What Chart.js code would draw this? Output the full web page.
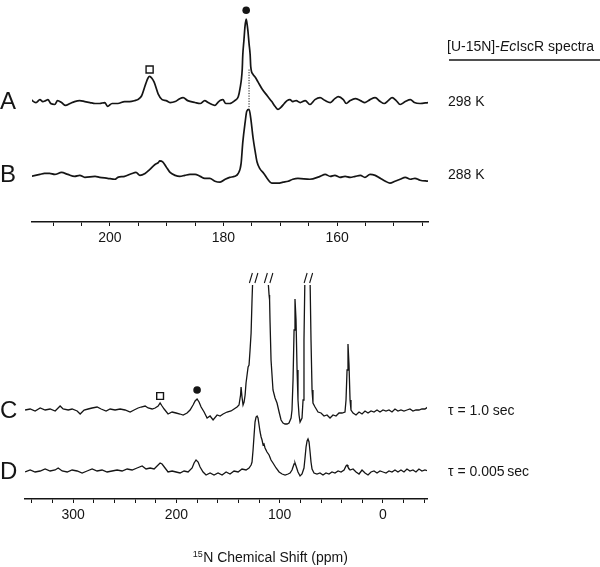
<!DOCTYPE html>
<html><head><meta charset="utf-8">
<script src="https://cdn.jsdelivr.net/npm/chart.js@4.4.0/dist/chart.umd.min.js"></script>
<style>html,body{margin:0;padding:0;background:#fff;width:600px;height:567px;overflow:hidden}canvas{position:absolute;left:0}</style>
</head><body>
<canvas id="cTop" width="600" height="250" style="top:0"></canvas>
<canvas id="cBot" width="600" height="317" style="top:250px"></canvas>
<script>
// ---------- DATA (15N chemical shift in ppm, intensity in arbitrary units) ----------
// Upper panel, temperature series
const A_ppm = [213.9,213.0,212.3,211.8,211.3,210.9,210.4,209.7,209.2,208.5,207.8,207.0,206.2,205.3,204.4,203.5,202.6,201.8,200.9,200.4,
  199.6,198.6,197.4,196.5,195.6,195.1,194.4,193.7,193.3,193.0,192.6,192.2,191.5,190.8,190.1,189.4,188.5,187.7,187.1,186.3,
  185.0,184.1,183.3,182.7,182.0,181.5,181.0,180.6,180.1,179.6,178.9,178.0,177.4,177.1,176.7,176.6,176.4,176.2,176.0,175.9,
  175.7,175.5,175.3,175.2,174.8,174.4,173.9,173.2,172.3,171.5,170.9,170.4,169.9,169.3,168.8,168.3,167.8,167.2,166.5,165.6,
  164.8,163.9,163.0,162.1,161.2,160.4,159.8,158.9,158.4,157.7,156.8,155.9,155.1,154.2,153.3,152.4,151.7,151.0,150.3,149.6,
  148.9,148.0,147.1,146.4,145.4,144.0];
const A_int = [2,-1,2,0,1,2,-2,-3,1,-1,-4,-2,0,1,0,-1,-2,-2,-1,-5,
  -2,-2,0,0,1,2,6,18,24,26,24,20,8,2,1,-1,0,3,4,1,
  -1,-2,1,-1,-3,-4,-1,1,2,-2,-2,1,5,13,33,48,63,78,85,82,
  73,60,48,36,28,25,20,13,6,0,-5,-8,-6,-2,1,2,0,1,-1,1,
  -3,2,4,1,-1,3,5,2,-2,1,3,1,-1,2,4,0,-2,1,4,1,
  -3,0,2,-1,-2,-1];
const B_ppm = [213.9,212.3,211.5,210.6,209.7,208.5,207.4,206.2,205.3,204.4,202.6,201.8,200.4,199.1,198.6,197.4,196.1,195.4,194.7,193.8,
  193.0,192.1,191.5,191.2,190.7,190.1,189.4,188.5,187.7,186.8,185.9,185.0,184.1,183.3,182.4,181.5,180.6,179.7,178.9,178.0,
  177.4,176.9,176.6,176.2,175.9,175.5,175.2,174.8,174.4,174.1,173.6,172.9,172.2,171.5,170.4,169.5,168.6,167.8,166.9,164.8,
  163.0,162.1,161.2,160.4,159.5,158.6,157.7,156.8,155.9,155.1,154.2,153.3,152.4,151.5,150.7,149.8,148.9,148.0,147.1,146.3,
  145.4,144.0];
const B_int = [-2,0,1,1,0,2,0,-2,-1,-3,-2,-3,-4,-5,-3,-2,1,2,-1,1,
  5,10,12,14,13,8,2,-1,-2,-1,0,0,-2,-4,-4,-7,-8,-5,-3,-2,
  1,11,33,53,65,67,58,38,23,13,6,1,-5,-9,-9,-8,-7,-5,-4,-5,
  -2,0,-2,-1,-3,-2,-3,-2,-1,-3,0,-1,-4,-7,-9,-7,-5,-3,-5,-4,
  -6,-7];
// Lower panel, tau series
const C_ppm = [346.5,341.6,336.8,331.9,327.1,322.3,317.4,312.6,309.7,304.8,
  301.0,296.1,293.2,289.4,285.5,281.6,276.8,272.9,268.1,264.2,
  259.4,254.5,249.7,244.8,241.0,237.1,234.2,230.3,227.4,223.5,
  220.6,217.7,215.8,213.9,211.9,208.1,204.2,200.3,196.5,193.5,
  189.7,186.8,183.9,181.9,180.0,178.1,176.1,173.2,170.3,167.4,
  164.5,160.6,157.7,154.8,151.0,147.1,144.2,141.3,139.4,137.9,
  137.4,136.5,135.5,134.5,133.5,132.6,130.6,129.7,128.7,127.7,
  126.8,125.8,123.9,121.0,117.1,114.1,112.3,111.3,110.3,109.8,
  109.4,108.4,106.5,104.5,102.6,100.6,98.7,96.8,94.8,92.9,
  91.0,89.0,88.1,87.1,86.1,85.2,84.2,83.2,82.3,81.3,
  80.3,79.4,78.4,77.4,76.5,75.5,73.5,71.6,70.6,69.7,
  68.7,67.8,65.8,62.9,60.0,57.1,54.2,51.3,48.4,45.5,
  42.6,39.7,36.8,35.8,34.8,33.9,32.9,31.9,31.0,29.0,
  26.1,23.2,20.3,17.4,14.5,11.6,8.7,5.8,2.9,0,
  -2.9,-5.8,-8.7,-11.6,-14.5,-17.4,-20.3,-23.2,-26.1,-29.0,
  -31.9,-34.8,-37.7,-40.6,-43.5];
const C_int = [0,1,-1,2,0,1,-1,4,1,0,
  1,-1,-4,0,1,2,3,1,-1,1,
  0,1,0,-2,0,2,3,4,2,1,
  2,4,7,4,1,-4,-2,-3,-4,-5,
  -3,0,5,9,11,8,3,-2,-8,-6,
  -10,-5,-6,-4,-2,-1,1,3,5,15,
  23,13,5,8,15,27,43,45,60,77,
  110,140,170,150,150,160,140,130,115,110,
  90,50,20,12,7,-2,-10,-13,-14,-14,
  -13,-8,0,30,80,111,90,40,10,-5,
  -12,-12,-8,10,70,140,170,170,130,70,
  20,7,3,-2,-3,-6,-5,-8,-5,-6,
  -3,-3,-2,10,40,66,45,10,0,-3,
  -5,-2,-4,-1,-3,-1,-2,0,-2,0,
  -1,0,-2,1,-1,0,-1,0,1,-1,
  0,0,1,1,3];
const D_ppm = [346.5,341.6,336.8,331.9,327.1,322.3,317.4,314.5,310.6,305.8,
  301.0,296.1,291.3,286.5,281.6,276.8,272.0,267.1,262.3,257.4,
  252.6,247.7,242.9,238.1,233.2,229.4,225.5,221.6,218.7,215.8,
  213.9,211.0,208.1,204.2,200.3,196.5,192.6,188.7,184.8,182.9,
  181.0,179.0,177.1,174.2,171.3,167.4,163.6,159.7,155.8,151.9,
  148.1,144.2,140.3,136.5,132.6,129.7,127.7,126.8,125.8,124.8,
  123.9,122.9,121.9,121.0,120.0,119.0,118.0,117.1,116.1,115.2,
  114.2,112.3,110.3,108.4,106.5,103.5,100.6,97.7,94.8,91.9,
  90.0,88.1,86.1,85.2,84.2,82.3,80.3,78.4,76.5,75.5,
  74.5,73.5,72.6,71.6,70.6,69.7,68.7,66.8,63.9,61.0,
  58.1,55.2,52.3,49.4,46.5,43.5,40.6,37.7,35.8,34.8,
  33.9,31.9,29.0,26.1,23.2,20.3,17.4,14.5,11.6,8.7,
  5.8,2.9,0,-2.9,-5.8,-8.7,-11.6,-14.5,-17.4,-20.3,
  -23.2,-26.1,-29.0,-31.9,-34.8,-37.7,-40.6,-43.5];
const D_int = [-1,1,-1,0,2,0,1,3,0,-1,
  1,0,-2,0,2,0,1,-1,0,1,
  0,2,1,3,5,2,3,2,5,8,
  7,3,-1,0,-1,-2,0,-1,3,8,
  11,9,4,-1,-4,-2,-4,-2,-4,-1,
  -3,0,-1,2,1,3,6,9,21,36,
  49,54,55,53,46,39,34,31,26,27,
  23,19,16,11,8,3,-1,-3,-4,-3,
  -2,1,7,8,5,-1,-5,-3,3,13,
  24,30,32,29,19,9,2,-2,-3,-2,
  -4,-2,-3,-1,-2,0,-1,1,5,6,
  4,1,2,-1,-3,1,-2,-4,-1,0,
  -2,0,-1,-2,0,-1,1,-1,1,-1,
  2,0,1,-1,2,0,1,0];

// Annotations (ppm, intensity relative to trace)
const topSquare = {ppm:193.0, int:33};   // on trace A
const topDot = {ppm:176.0, int:94};      // on trace A
const topDotted = {ppm:175.5, fromA:33, toB:68};
const botSquare = {ppm:215.8, int:14};   // on trace C
const botDot = {ppm:180.0, int:20};      // on trace C
const breakMarks = [125, 110.5, 72];     // truncated peaks (ppm)

// Tick labels
const topMajorTicks = [200,180,160];
const topMinorTicks = [210,205,200,195,190,185,180,175,170,165,160,155,150,145];
const botMajorTicks = [300,200,100,0];
const botMinorTicks = [340,320,300,280,260,240,220,200,180,160,140,120,100,80,60,40,20,0,-20,-40];

// Labels
const topLabels = [{name:'A', right:'298 K'}, {name:'B', right:'288 K'}];
const botLabels = [{name:'C', right:'\u03C4 = 1.0 sec'}, {name:'D', right:'\u03C4 = 0.005\u2009sec'}];

// ---------- LAYOUT ----------
const FONT = '"Liberation Sans", Arial, Helvetica, sans-serif';
const INK = '#151515';
const topOffsets = [124, 49];
const botOffsets = [89, 28];

function pts(xs, ys, off){ return xs.map((x,i)=>({x:x, y:off + ys[i]})); }

function xAxis(min, max, minor, major, height){
  return {
    type:'linear', reverse:true, min:min, max:max, position:'bottom',
    afterBuildTicks: s => { s.ticks = minor.map(v=>({value:v})); },
    afterFit: s => { s.height = height; },
    ticks:{ autoSkip:false, maxRotation:0, padding:4, color:INK,
      font:{family:FONT, size:14},
      callback: v => major.includes(v) ? String(v) : '' },
    grid:{ display:true, drawOnChartArea:false, drawTicks:true, tickLength:4, color:INK, lineWidth:1 },
    border:{ display:true, color:INK, width:1.5 }
  };
}

function sideLabels(labels, offsets, pageTop){
  return { id:'sideLabels', afterDatasetsDraw(chart){
    const ctx = chart.ctx, y = chart.scales.y;
    ctx.save(); ctx.fillStyle = INK; ctx.textBaseline = 'middle'; ctx.textAlign = 'left';
    labels.forEach((l,i)=>{
      const py = y.getPixelForValue(offsets[i]);
      ctx.font = '24px ' + FONT; ctx.fillText(l.name, 0, py + 1);
      ctx.font = '14px ' + FONT; ctx.fillText(l.right, 448, py + 1);
    });
    ctx.restore();
  }};
}

const topDecor = { id:'topDecor', afterDatasetsDraw(chart){
  const ctx = chart.ctx;
  ctx.save(); ctx.fillStyle = INK; ctx.textBaseline = 'middle';
  let x = 447; const y = 47;
  const parts = [['[U-15N]-', ''], ['Ec', 'italic '], ['IscR spectra', '']];
  parts.forEach(p => { ctx.font = p[1] + '14px ' + FONT; ctx.fillText(p[0], x, y); x += ctx.measureText(p[0]).width; });
  ctx.strokeStyle = INK; ctx.lineWidth = 1.3;
  ctx.beginPath(); ctx.moveTo(449, 60); ctx.lineTo(600, 60); ctx.stroke();
  ctx.restore();
}};

const botDecor = { id:'botDecor', afterDatasetsDraw(chart){
  const ctx = chart.ctx, xs = chart.scales.x, top = chart.chartArea.top;
  ctx.save(); ctx.strokeStyle = INK; ctx.lineWidth = 1.1;
  breakMarks.forEach(p => {
    const px = xs.getPixelForValue(p);
    ctx.beginPath();
    ctx.moveTo(px - 4.5, top - 2); ctx.lineTo(px - 1.5, top - 12);
    ctx.moveTo(px + 1, top - 2); ctx.lineTo(px + 4, top - 12);
    ctx.stroke();
  });
  // axis title with superscript
  ctx.fillStyle = INK; ctx.textBaseline = 'alphabetic';
  ctx.font = '9px ' + FONT; const w1 = ctx.measureText('15').width;
  ctx.font = '14px ' + FONT; const main = 'N Chemical Shift (ppm)'; const w2 = ctx.measureText(main).width;
  const cx = 270, by = 312; let x0 = cx - (w1 + w2) / 2;
  ctx.font = '9px ' + FONT; ctx.fillText('15', x0, by - 5);
  ctx.font = '14px ' + FONT; ctx.fillText(main, x0 + w1 + 0.5, by);
  ctx.restore();
}};

const lineStyle = (data, w, smooth) => ({ data:data, borderColor:INK, borderWidth:w, pointRadius:0,
  fill:false, showLine:true, tension: smooth ? 0.35 : 0, cubicInterpolationMode: smooth ? 'monotone' : 'default' });

// ---------- TOP CHART ----------
new Chart(document.getElementById('cTop'), {
  type:'scatter',
  data:{ datasets:[
    lineStyle(pts(A_ppm, A_int, topOffsets[0]), 1.7, true),
    lineStyle(pts(B_ppm, B_int, topOffsets[1]), 1.7, true),
    { data:[{x:topDotted.ppm, y:topOffsets[0]+topDotted.fromA}, {x:topDotted.ppm, y:topOffsets[1]+topDotted.toB}],
      showLine:true, borderColor:INK, borderWidth:1, borderDash:[1.2,1.4], pointRadius:0 },
    { data:[{x:topSquare.ppm, y:topOffsets[0]+topSquare.int}], pointStyle:'rect', pointRadius:5,
      backgroundColor:'#fff', borderColor:INK, borderWidth:1.4, clip:false },
    { data:[{x:topDot.ppm, y:topOffsets[0]+topDot.int}], pointStyle:'circle', pointRadius:3.8,
      backgroundColor:INK, borderColor:INK, borderWidth:0, clip:false }
  ]},
  options:{
    responsive:false, animation:false, devicePixelRatio:1, events:[],
    layout:{ padding:{ left:32, right:172, top:0, bottom:0 } },
    plugins:{ legend:{display:false}, tooltip:{enabled:false} },
    scales:{
      x: xAxis(144.0, 213.7, topMinorTicks, topMajorTicks, 28),
      y: { display:false, min:0, max:222 }
    }
  },
  plugins:[ sideLabels(topLabels, topOffsets), topDecor ]
});

// ---------- BOTTOM CHART ----------
new Chart(document.getElementById('cBot'), {
  type:'scatter',
  data:{ datasets:[
    lineStyle(pts(C_ppm, C_int, botOffsets[0]), 1.3, false),
    lineStyle(pts(D_ppm, D_int, botOffsets[1]), 1.3, false),
    { data:[{x:botSquare.ppm, y:botOffsets[0]+botSquare.int}], pointStyle:'rect', pointRadius:4.8,
      backgroundColor:'#fff', borderColor:INK, borderWidth:1.4, clip:false },
    { data:[{x:botDot.ppm, y:botOffsets[0]+botDot.int}], pointStyle:'circle', pointRadius:3.8,
      backgroundColor:INK, borderColor:INK, borderWidth:0, clip:false }
  ]},
  options:{
    responsive:false, animation:false, devicePixelRatio:1, events:[],
    layout:{ padding:{ left:25, right:173, top:35, bottom:0 } },
    plugins:{ legend:{display:false}, tooltip:{enabled:false} },
    scales:{
      x: xAxis(-42.6, 346.6, botMinorTicks, botMajorTicks, 68),
      y: { display:false, min:0, max:214 }
    }
  },
  plugins:[ sideLabels(botLabels, botOffsets), botDecor ]
});
</script>
</body></html>
